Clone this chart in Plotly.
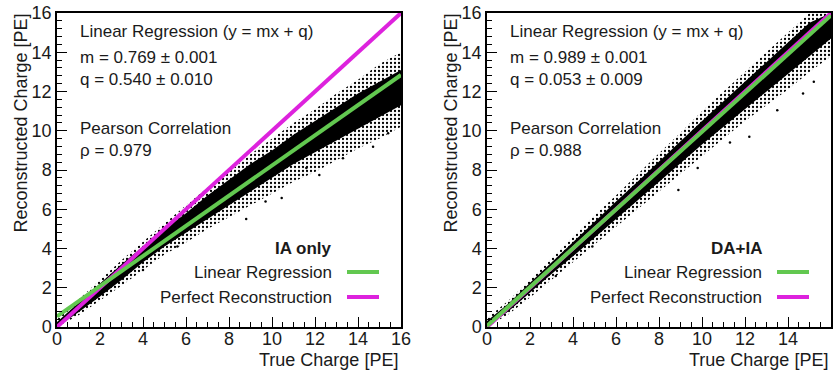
import plotly.graph_objects as go

# ---------------- data ----------------
x_env = [0, 1, 2, 3, 4, 5, 6, 7, 8, 9, 10, 11, 12, 13, 14, 15, 16]

# IA only : envelope of the scattered events
ia_core_lo = [0.0, 0.75, 1.55, 2.4, 3.3, 4.1, 4.8, 5.5, 6.2, 6.9, 7.6, 8.3, 8.9, 9.5, 10.1, 10.7, 11.3]
ia_core_hi = [0.25, 1.25, 2.25, 3.2, 4.1, 5.0, 5.8, 6.7, 7.5, 8.3, 9.0, 9.8, 10.5, 11.2, 11.9, 12.5, 13.1]
ia_halo_lo = [0.0, 0.6, 1.35, 2.1, 2.9, 3.7, 4.3, 5.0, 5.6, 6.2, 6.8, 7.4, 7.9, 8.5, 9.1, 9.6, 10.2]
ia_halo_hi = [0.4, 1.4, 2.45, 3.4, 4.35, 5.3, 6.2, 7.1, 7.9, 8.8, 9.6, 10.4, 11.1, 11.9, 12.6, 13.4, 14.0]
ia_out_x = [8.8, 10.45, 12.2, 14.7, 15.4, 11.6, 13.3, 9.7, 4.0, 5.6]
ia_out_y = [5.5, 6.57, 7.74, 9.18, 9.87, 8.1, 8.6, 6.4, 2.9, 4.1]

# DA+IA : envelope of the scattered events
da_core_lo = [0.0, 0.8, 1.75, 2.7, 3.6, 4.55, 5.5, 6.45, 7.4, 8.35, 9.3, 10.2, 11.1, 12.0, 12.9, 13.8, 14.7]
da_core_hi = [0.3, 1.2, 2.25, 3.3, 4.35, 5.4, 6.4, 7.4, 8.45, 9.45, 10.5, 11.5, 12.5, 13.5, 14.5, 15.5, 16.0]
da_halo_lo = [0.0, 0.65, 1.5, 2.4, 3.3, 4.2, 5.1, 6.0, 6.9, 7.8, 8.7, 9.6, 10.5, 11.3, 12.1, 13.0, 13.8]
da_halo_hi = [0.45, 1.35, 2.4, 3.5, 4.6, 5.7, 6.7, 7.8, 8.85, 9.9, 11.0, 12.0, 13.0, 14.0, 15.0, 16.0, 16.0]
da_out_x = [8.9, 12.2, 13.5, 14.7, 15.2, 9.8, 11.3, 4.9, 3.2]
da_out_y = [6.98, 9.7, 11.05, 11.9, 12.5, 8.1, 9.4, 4.1, 2.6]

# fit results shown in the panels
fit_m = [0.769, 0.989]
fit_m_err = [0.001, 0.001]
fit_q = [0.540, 0.053]
fit_q_err = [0.010, 0.009]
pearson = [0.979, 0.988]
panel_tags = ["IA only", "DA+IA"]

x_range = [0, 16]
y_range = [0, 16]
tick_vals = [0, 2, 4, 6, 8, 10, 12, 14, 16]
tick_text = ["0", "2", "4", "6", "8", "10", "12", "14", "16"]

# ---------------- styling ----------------
FONT = "Arial"
TXT = "#1a1a1a"
GREEN = "#62c850"
MAGENTA = "#dd22dd"

fig = go.Figure()

panels = [
    dict(xa="x", ya="y", clo=ia_core_lo, chi=ia_core_hi, hlo=ia_halo_lo, hhi=ia_halo_hi,
         ox=ia_out_x, oy=ia_out_y),
    dict(xa="x2", ya="y2", clo=da_core_lo, chi=da_core_hi, hlo=da_halo_lo, hhi=da_halo_hi,
         ox=da_out_x, oy=da_out_y),
]

for i, p in enumerate(panels):
    poly_x = x_env + x_env[::-1]
    # scattered halo
    fig.add_trace(go.Scatter(
        x=poly_x, y=p["hhi"] + p["hlo"][::-1], xaxis=p["xa"], yaxis=p["ya"],
        mode="lines", line=dict(width=0), fill="toself", fillcolor="rgba(0,0,0,0)",
        fillpattern=dict(shape=".", fgcolor="black", bgcolor="rgba(0,0,0,0)", size=4, solidity=0.25),
        hoverinfo="skip", showlegend=False))
    # dense core
    fig.add_trace(go.Scatter(
        x=poly_x, y=p["chi"] + p["clo"][::-1], xaxis=p["xa"], yaxis=p["ya"],
        mode="lines", line=dict(width=0), fill="toself", fillcolor="black",
        hoverinfo="skip", showlegend=False))
    # isolated events
    fig.add_trace(go.Scatter(
        x=p["ox"], y=p["oy"], xaxis=p["xa"], yaxis=p["ya"], mode="markers",
        marker=dict(size=2.5, color="black"), hoverinfo="skip", showlegend=False))
    # perfect reconstruction y = x
    fig.add_trace(go.Scatter(
        x=x_range, y=x_range, xaxis=p["xa"], yaxis=p["ya"], mode="lines",
        line=dict(color=MAGENTA, width=4), hoverinfo="skip", showlegend=False))
    # linear regression
    fig.add_trace(go.Scatter(
        x=x_range, y=[fit_m[i] * v + fit_q[i] for v in x_range], xaxis=p["xa"], yaxis=p["ya"],
        mode="lines", line=dict(color=GREEN, width=4), hoverinfo="skip", showlegend=False))

X1 = [57 / 839, 401 / 839]
X2 = [487 / 839, 831 / 839]
YD = [(373 - 327) / 373, (373 - 13) / 373]

axis_common = dict(
    range=x_range, tickmode="array", tickvals=tick_vals, ticktext=tick_text,
    ticks="inside", ticklen=10, tickwidth=1.2, tickcolor="black",
    showline=True, linecolor="black", linewidth=1.5, mirror=True,
    showgrid=False, zeroline=False, automargin=False,
    tickfont=dict(family=FONT, size=18, color=TXT),
)

fig.update_layout(
    template="none",
    width=839, height=373, margin=dict(l=0, r=0, t=0, b=0, autoexpand=False),
    paper_bgcolor="white", plot_bgcolor="white", showlegend=False,
    font=dict(family=FONT, color=TXT),
    xaxis=dict(domain=X1, anchor="y", ticklabelstandoff=-5,
               minor=dict(dtick=0.5, ticks="inside", ticklen=5, tickcolor="black"), **axis_common),
    yaxis=dict(domain=YD, anchor="x", minor=dict(dtick=0.4, ticks="inside", ticklen=5, tickcolor="black"), **axis_common),
    xaxis2=dict(domain=X2, anchor="y2", ticklabelstandoff=-5,
                minor=dict(dtick=0.5, ticks="inside", ticklen=5, tickcolor="black"), **axis_common),
    yaxis2=dict(domain=YD, anchor="x2", minor=dict(dtick=0.4, ticks="inside", ticklen=5, tickcolor="black"), **axis_common),
)
fig.update_yaxes(range=y_range)

def ypx(py):
    return (373 - py) / 373

annotations = []
shapes = []
for i, (xd, xa) in enumerate([(X1, "x"), (X2, "x2")]):
    left = xd[0] + 21 / 839
    lines = [
        ("Linear Regression (y = mx + q)", 31),
        (f"m = {fit_m[i]:.3f} ± {fit_m_err[i]:.3f}", 57),
        (f"q = {fit_q[i]:.3f} ± {fit_q_err[i]:.3f}", 79),
        ("Pearson Correlation", 128),
        (f"ρ = {pearson[i]:.3f}", 150),
    ]
    for t, yy in lines:
        annotations.append(dict(text=t, xref="paper", yref="paper", x=left, y=ypx(yy),
                                xanchor="left", yanchor="middle", showarrow=False,
                                font=dict(family=FONT, size=17, color=TXT)))
    # legend
    txt_right = xd[1] - 67 / 839
    annotations.append(dict(text=f"<b>{panel_tags[i]}</b>", xref="paper", yref="paper",
                            x=txt_right, y=ypx(248), xanchor="right", yanchor="middle",
                            showarrow=False, font=dict(family=FONT, size=17, color=TXT)))
    for label, col, yy in [("Linear Regression", GREEN, 272), ("Perfect Reconstruction", MAGENTA, 297)]:
        annotations.append(dict(text=label, xref="paper", yref="paper", x=txt_right, y=ypx(yy),
                                xanchor="right", yanchor="middle", showarrow=False,
                                font=dict(family=FONT, size=17, color=TXT)))
        shapes.append(dict(type="line", xref="paper", yref="paper",
                           x0=xd[1] - 54 / 839, x1=xd[1] - 22 / 839, y0=ypx(yy), y1=ypx(yy),
                           line=dict(color=col, width=4)))
    # axis titles
    annotations.append(dict(text="True Charge [PE]", xref="paper", yref="paper",
                            x=xd[1] - 1 / 839, y=ypx(360), xanchor="right", yanchor="middle",
                            showarrow=False, font=dict(family=FONT, size=18, color=TXT)))
    annotations.append(dict(text="Reconstructed Charge [PE]", xref="paper", yref="paper",
                            x=xd[0] - 37 / 839, y=ypx(12), xanchor="center", yanchor="top",
                            textangle=-90, showarrow=False,
                            font=dict(family=FONT, size=18, color=TXT)))

fig.update_layout(annotations=annotations, shapes=shapes)
fig.write_html(
    "out.html",
    config={"displayModeBar": False},
    post_script="document.body.style.margin='0';document.body.style.overflow='hidden';",
)
